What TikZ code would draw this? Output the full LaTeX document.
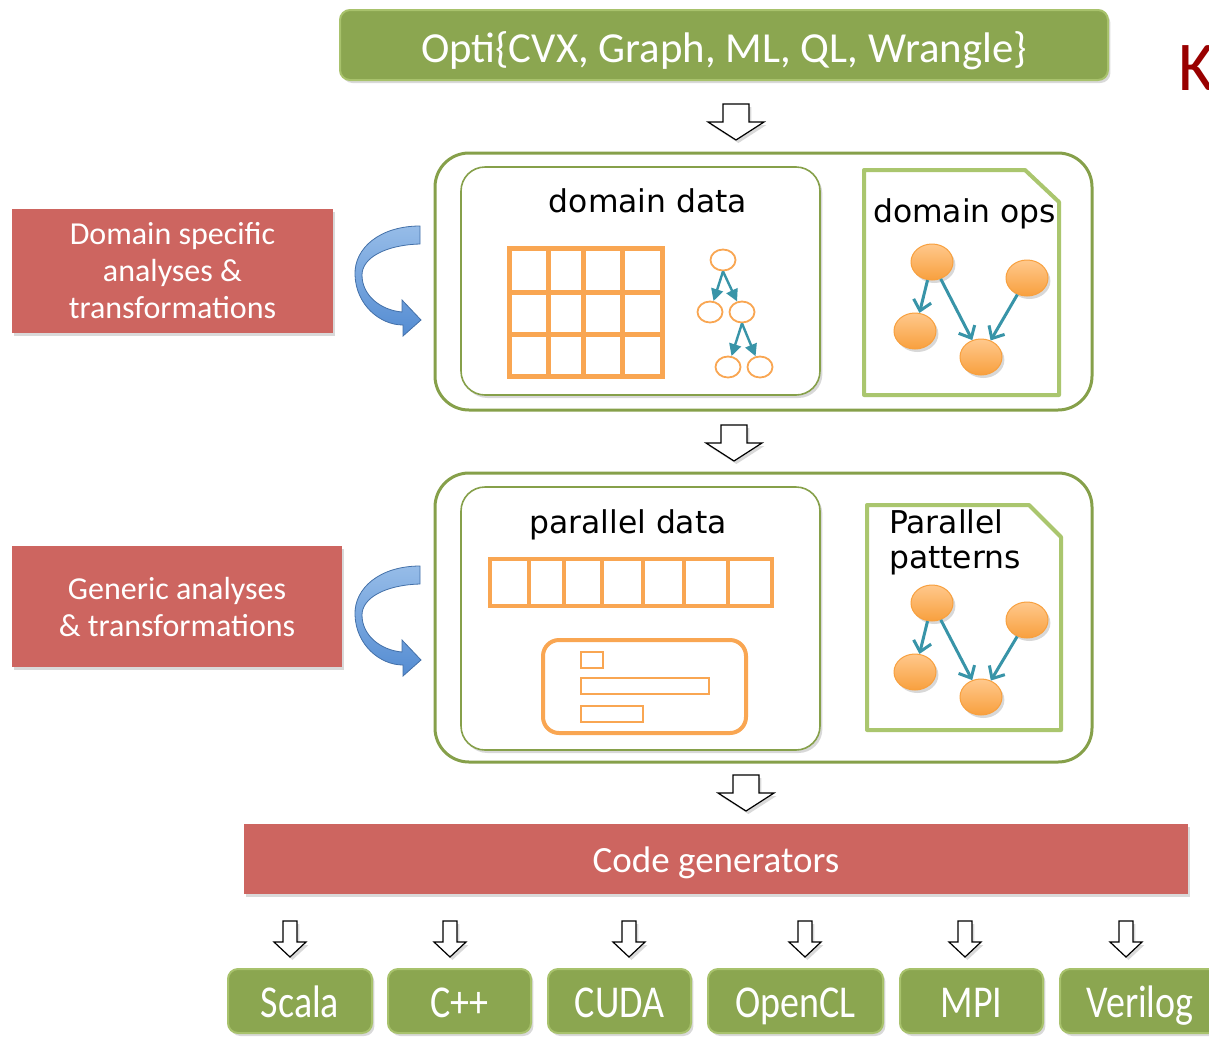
\documentclass[tikz,border=0pt]{standalone}
\usepackage{fontspec}
\setmainfont{Carlito}
\newfontfamily\labelfont{DejaVu Sans}
\usetikzlibrary{arrows.meta,shadows,shapes.geometric,positioning}

\definecolor{boxgreen}{RGB}{139,166,80}
\definecolor{rimgreen}{RGB}{168,194,108}
\definecolor{olive}{RGB}{134,160,74}
\definecolor{docgreen}{RGB}{170,198,110}
\definecolor{boxred}{RGB}{205,101,96}
\definecolor{dataorange}{RGB}{249,166,82}
\definecolor{ballhi}{RGB}{255,200,140}
\definecolor{balllo}{RGB}{248,160,62}
\definecolor{edgeteal}{RGB}{56,148,168}
\definecolor{swirlhi}{RGB}{150,188,232}
\definecolor{swirllo}{RGB}{84,140,210}
\definecolor{kred}{RGB}{153,0,0}

\newcommand{\tall}[1]{\scalebox{1}[1.2]{#1}}

\tikzset{
  lightshadow/.style={drop shadow={shadow xshift=1.2pt, shadow yshift=-1.5pt, opacity=0.3}},
  greenbox/.style={fill=boxgreen, draw=rimgreen, line width=1pt, rounded corners=5pt, text=white, lightshadow},
  redbox/.style={fill=boxred, text=white, align=center, lightshadow},
  stagebox/.style={draw=olive, line width=1.5pt, rounded corners=17pt, fill=white},
  innerbox/.style={draw=olive, line width=0.8pt, rounded corners=12pt, fill=white, lightshadow},
  docpage/.style={draw=docgreen, line width=2pt, fill=white, line join=round},
  gridline/.style={draw=dataorange, line width=2.5pt},
  treenode/.style={ellipse, draw=dataorange, line width=0.9pt, fill=white, minimum width=12.5pt, minimum height=10.5pt, inner sep=0pt},
  ball/.style={ellipse, draw=balllo, line width=0.5pt, top color=ballhi, bottom color=balllo, minimum width=21pt, minimum height=18pt, inner sep=0pt, lightshadow},
  treeedge/.style={draw=edgeteal, line width=1.2pt, -{Triangle[length=6pt,width=6pt]}},
  opsedge/.style={draw=edgeteal, line width=1.5pt, -{Straight Barb[length=5pt,width=9pt]}},
  hollow/.style={draw=black, line width=0.6pt, fill=white, lightshadow},
  inlabel/.style={font=\labelfont\fontsize{15.7}{18}\selectfont},
  pics/bigdown/.style={code={
    \draw[hollow] (-13,0) -- (13,0) -- (13,18) -- (28,18) -- (0,36) -- (-28,18) -- (-13,18) -- cycle;}},
  pics/smalldown/.style={code={
    \draw[hollow] (-7,0) -- (7,0) -- (7,21) -- (16,21) -- (0,36) -- (-16,21) -- (-7,21) -- cycle;}},
  pics/swirl/.style={code={
    \draw[draw=swirllo!80!black, line width=0.4pt, top color=swirlhi, bottom color=swirllo]
      (0,0) .. controls (-40,0) and (-66,22) .. (-65,49)
      .. controls (-64,79) and (-40,99) .. (-17,99)
      -- (-17,110) -- (1,94) -- (-18,74) -- (-18,86)
      .. controls (-40,84) and (-58,69) .. (-58,49)
      .. controls (-58,32) and (-35,19) .. (0,18) -- cycle;}},
}

\begin{document}
\begin{tikzpicture}[x=0.5pt, y=-0.5pt]
\useasboundingbox (0,0) rectangle (1209,1039);

% the DSLs on top
\node[greenbox, minimum width=384pt, minimum height=35pt, text height=20pt, text depth=2.5pt,
      font=\fontsize{21.4}{24}\selectfont] (opti) at (724,45) {Opti\{CVX, Graph, ML, QL, Wrangle\}};
\node[anchor=base west, text=kred, font=\fontsize{35}{40}\selectfont] (kay) at (1171,90) {K};
\pic at (736,104) {bigdown};

% domain level
\node[stagebox, minimum width=328.5pt, minimum height=128.5pt] (domstage) at (763.5,281.5) {};
\node[innerbox, minimum width=179.5pt, minimum height=114pt] (domdata) at (640.5,281) {};
\node[inlabel, anchor=base] (domdatalbl) at (648,212) {domain data};

% table
\draw[gridline] (509,248) rectangle (662,376);
\foreach \gx in {548,583,622}
  \draw[gridline] (\gx,248) -- (\gx,376);
\foreach \gy in {292,334}
  \draw[gridline] (509,\gy) -- (662,\gy);

% tree
\node[treenode] (t0) at (723,260) {};
\node[treenode] (t1) at (710,312) {};
\node[treenode] (t2) at (742,312) {};
\node[treenode] (t3) at (728,367) {};
\node[treenode] (t4) at (760,367) {};
\draw[treeedge] (t0.south) -- (t1);
\draw[treeedge] (t0.south) -- (t2);
\draw[treeedge] (t2.south) -- (t3);
\draw[treeedge] (t2.south) -- (t4);

% domain ops
\draw[docpage] (864,170) -- (1025,170) -- (1059,202) -- (1059,395) -- (864,395) -- cycle;
\node[inlabel, anchor=base west] (opslbl) at (866,222) {domain ops};
\node[ball] (a1) at (932,262) {};
\node[ball] (a2) at (1027,278) {};
\node[ball] (a3) at (915,331) {};
\node[ball] (a4) at (981,357) {};
\draw[opsedge] (a1) -- (a3);
\draw[opsedge] (a1) -- (a4);
\draw[opsedge] (a2) -- (a4);

\node[redbox, minimum width=160.5pt, minimum height=62pt, font=\fontsize{16}{18.5}\selectfont] (dsa) at (172.5,271) {Domain specific\\analyses \&\\transformations};
\pic at (420,226) {swirl};

\pic at (734,425) {bigdown};

% parallel level
\node[stagebox, minimum width=328.5pt, minimum height=144.5pt] (parstage) at (763.5,617.5) {};
\node[innerbox, minimum width=179.5pt, minimum height=131.5pt] (pardata) at (640.5,618.5) {};
\node[inlabel, anchor=base] (pardatalbl) at (628,533) {parallel data};

% array
\draw[gridline, line width=2.2pt] (490,559) rectangle (772,606);
\foreach \gx in {529,564,602,643,684,728}
  \draw[gridline, line width=2.2pt] (\gx,559) -- (\gx,606);

% struct
\draw[dataorange, line width=2pt, rounded corners=8pt] (543,640) rectangle (746,733);
\draw[dataorange, line width=1.3pt] (581,652) rectangle (603,668);
\draw[dataorange, line width=1.3pt] (581,678) rectangle (709,694);
\draw[dataorange, line width=1.3pt] (581,706) rectangle (643,722);

% parallel patterns
\draw[docpage] (867,505) -- (1029,505) -- (1061,537) -- (1061,730) -- (867,730) -- cycle;
\node[inlabel, anchor=base west] (pplbl) at (882,533) {Parallel};
\node[inlabel, anchor=base west] (pplbl2) at (882,568) {patterns};
\node[ball] (b1) at (932,603) {};
\node[ball] (b2) at (1027,620) {};
\node[ball] (b3) at (915,672) {};
\node[ball] (b4) at (981,697) {};
\draw[opsedge] (b1) -- (b3);
\draw[opsedge] (b1) -- (b4);
\draw[opsedge] (b2) -- (b4);

\node[redbox, minimum width=165pt, minimum height=60.5pt, font=\fontsize{16}{18.5}\selectfont] (gat) at (177,606.5) {Generic analyses\\\& transformations};
\pic at (420,566) {swirl};

\pic at (746,775) {bigdown};

% back ends
\node[redbox, minimum width=472pt, minimum height=35pt, text height=14pt, text depth=1pt,
      font=\fontsize{18.5}{20}\selectfont] (codegen) at (716,859) {Code generators};
\foreach \name/\ax/\cx/\w/\lbl in {scala/290/300/72/Scala, cpp/450/459.5/71.5/C++, cuda/629/619.5/71.5/CUDA,
    opencl/805/795.5/87.5/OpenCL, mpi/965/971.5/71.5/MPI, verilog/1126/1140/80/Verilog} {
  \pic at (\ax,921) {smalldown};
  \node[greenbox, minimum width=\w pt, minimum height=32pt, text height=17pt, text depth=1pt,
        font=\fontsize{19}{22}\selectfont] (\name) at (\cx,1001) {\tall{\lbl}};
}
\end{tikzpicture}
\end{document}
